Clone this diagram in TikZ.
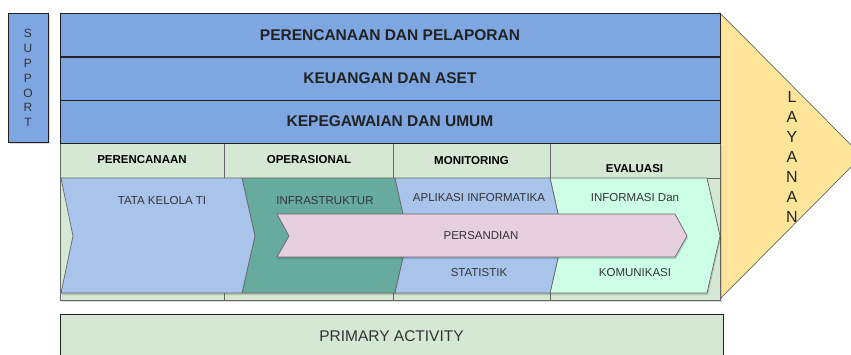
\documentclass[tikz,border=0pt]{standalone}
\usepackage{fontspec}
\setmainfont{Liberation Sans}
\definecolor{barblue}{HTML}{7EA6E0}
\definecolor{hdrgreen}{HTML}{D5E8D4}
\definecolor{chevblue}{HTML}{A9C4EB}
\definecolor{chevteal}{HTML}{67AB9F}
\definecolor{chevmint}{HTML}{CCFFE6}
\definecolor{chevpink}{HTML}{E6D0DE}
\definecolor{layyellow}{HTML}{FFE599}
\definecolor{darkline}{HTML}{222222}
\definecolor{grayline}{HTML}{666666}
\definecolor{txtgray}{HTML}{333333}
\tikzset{
  barbox/.style={draw=darkline, line width=0.8pt, fill=barblue, minimum width=660, minimum height=43, inner sep=0pt, font=\fontsize{15.5}{18}\selectfont\bfseries, text=darkline},
  hdrtext/.style={font=\fontsize{11.5}{13}\selectfont\bfseries, text=black},
  chevtext/.style={font=\fontsize{11.5}{13}\selectfont, text=txtgray},
  chevline/.style={draw=grayline, line width=0.7pt},
  shade/.style={fill=black, opacity=0.15},
}
\begin{document}
\begin{tikzpicture}[x=1pt,y=-1pt]
\useasboundingbox (0,0) rectangle (851,354);
\clip (0,0) rectangle (851,354);
% LAYANAN
\draw[draw=grayline, line width=0.7pt, fill=layyellow] (720,13) -- (862,156) -- (720,299) -- cycle;
\node[font=\fontsize{16}{20}\selectfont, text=darkline, align=center, inner sep=0pt] (lay) at (792,157) {L\\A\\Y\\A\\N\\A\\N};
% SUPPORT
\fill[shade] (10,15) rectangle (50,144);
\node[draw=darkline, line width=0.7pt, fill=barblue, minimum width=40, minimum height=129, inner sep=0pt] (sup) at (28,77.5) {};
\node[font=\fontsize{12}{14.9}\selectfont, text=txtgray, align=center, inner sep=0pt] (suptxt) at (28,78) {S\\U\\P\\P\\O\\R\\T};
% green area
\fill[shade] (62,145) rectangle (722,302);
\node[draw=grayline, line width=0.7pt, fill=hdrgreen, minimum width=164, minimum height=157, inner sep=0pt] (col1) at (142,221.5) {};
\node[draw=grayline, line width=0.7pt, fill=hdrgreen, minimum width=169, minimum height=157, inner sep=0pt] (col2) at (308.5,221.5) {};
\node[draw=grayline, line width=0.7pt, fill=hdrgreen, minimum width=157, minimum height=157, inner sep=0pt] (col3) at (471.5,221.5) {};
\node[draw=grayline, line width=0.7pt, fill=hdrgreen, minimum width=170, minimum height=157, inner sep=0pt] (col4) at (635,221.5) {};
\draw[grayline, line width=0.7pt] (col1.west |- 0,178) -- (col4.east |- 0,178);
\node[hdrtext] (h1) at (142,160) {PERENCANAAN};
\node[hdrtext] (h2) at (309,160) {OPERASIONAL};
\node[hdrtext] (h3) at (471.5,161) {MONITORING};
\node[hdrtext] (h4) at (634.5,169) {EVALUASI};
% bars
\node[barbox] (b1) at (390,35) {PERENCANAAN DAN PELAPORAN};
\node[barbox] (b2) at (390,78.5) {KEUANGAN DAN ASET};
\node[barbox] (b3) at (390,121.5) {KEPEGAWAIAN DAN UMUM};
% chevron shadows
\fill[shade] (62,180) -- (708,180) -- (721,238) -- (708,295) -- (62,295) -- (74,238) -- cycle;
% chevrons
\draw[chevline, fill=chevteal] (242,178) -- (395,178) -- (408,236) -- (395,293) -- (242,293) -- (255,236) -- cycle;
\draw[chevline, fill=chevblue] (61,178) -- (242,178) -- (255,236) -- (242,293) -- (61,293) -- (73,236) -- cycle;
\draw[chevline, fill=chevmint] (550,178) -- (707,178) -- (720,236) -- (707,293) -- (550,293) -- (563,236) -- cycle;
\draw[chevline, fill=chevblue] (395,178) -- (550,178) -- (563,236) -- (550,293) -- (395,293) -- (408,236) -- cycle;
\fill[shade] (278,216) -- (676,216) -- (688,238) -- (676,259) -- (278,259) -- (290,238) -- cycle;
\draw[chevline, fill=chevpink] (277,214) -- (675,214) -- (687,236) -- (675,257) -- (277,257) -- (289,236) -- cycle;
\node[chevtext] (t1) at (162,201) {TATA KELOLA TI};
\node[chevtext] (t2) at (325,200.5) {INFRASTRUKTUR};
\node[chevtext] (t3) at (479,197.5) {APLIKASI INFORMATIKA};
\node[chevtext] (t4) at (635,197.5) {INFORMASI Dan};
\node[chevtext] (t5) at (481,236) {PERSANDIAN};
\node[chevtext] (t6) at (479,272.5) {STATISTIK};
\node[chevtext] (t7) at (635,273) {KOMUNIKASI};
% primary activity
\node[draw=darkline, line width=0.7pt, fill=hdrgreen, minimum width=663, minimum height=50, inner sep=0pt, anchor=north west] (prim) at (60,314) {};
\node[font=\fontsize{15.5}{18}\selectfont, text=txtgray] (primtxt) at (391.5,336.5) {PRIMARY ACTIVITY};
\end{tikzpicture}
\end{document}
